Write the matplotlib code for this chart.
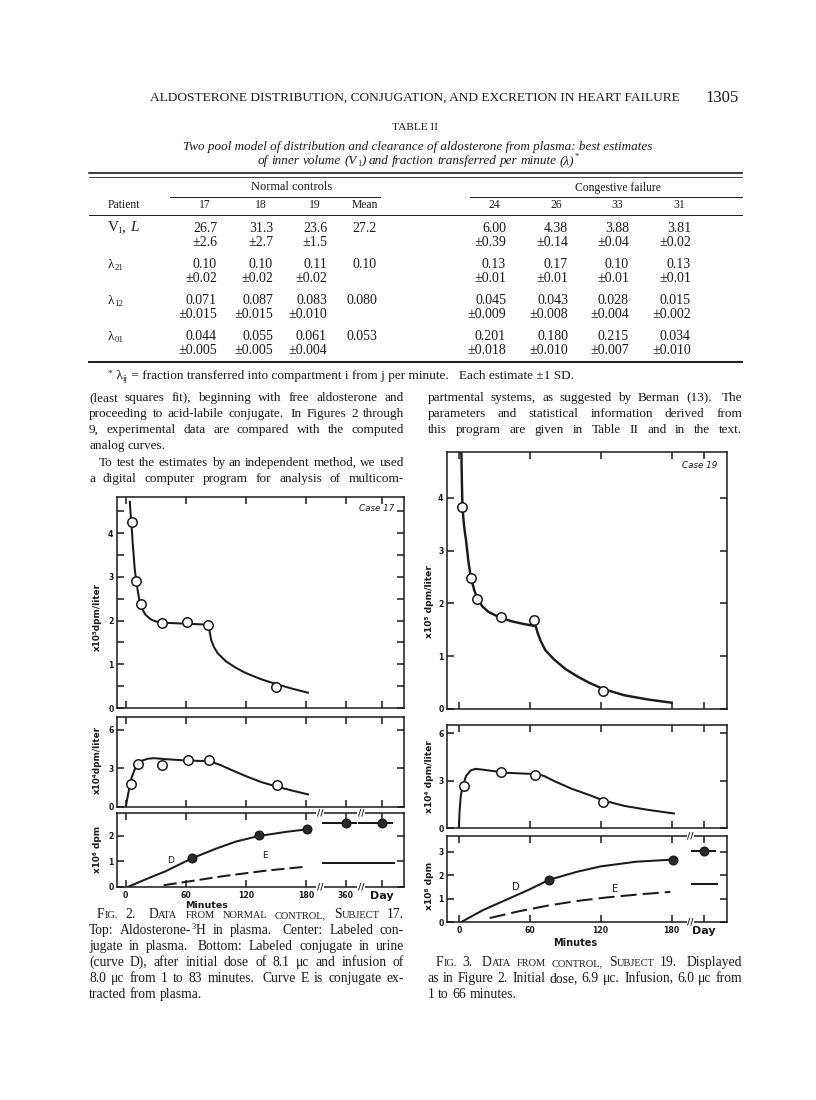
import re
import matplotlib
matplotlib.use('Agg')
import matplotlib.pyplot as plt

# ---------------- data ----------------
table_cols = ['17', '18', '19', 'Mean', '24', '26', '33', '31']
row_V1 = ['26.7', '31.3', '23.6', '27.2', '6.00', '4.38', '3.88', '3.81']
sd_V1 = ['±2.6', '±2.7', '±1.5', '', '±0.39', '±0.14', '±0.04', '±0.02']
row_l21 = ['0.10', '0.10', '0.11', '0.10', '0.13', '0.17', '0.10', '0.13']
sd_l21 = ['±0.02', '±0.02', '±0.02', '', '±0.01', '±0.01', '±0.01', '±0.01']
row_l12 = ['0.071', '0.087', '0.083', '0.080', '0.045', '0.043', '0.028', '0.015']
sd_l12 = ['±0.015', '±0.015', '±0.010', '', '±0.009', '±0.008', '±0.004', '±0.002']
row_l01 = ['0.044', '0.055', '0.061', '0.053', '0.201', '0.180', '0.215', '0.034']
sd_l01 = ['±0.005', '±0.005', '±0.004', '', '±0.018', '±0.010', '±0.007', '±0.010']

# Fig. 2 (subject 17)
f2_top_pts_x = [6, 10.5, 15, 36, 61, 82, 150]
f2_top_pts_y = [4.26, 2.91, 2.37, 1.94, 1.98, 1.91, 0.49]
f2_top_curve_x = [4.2, 5, 6, 7, 8, 9, 10.5, 12, 13.5, 15, 17, 20, 25, 30, 40, 60, 80, 83,
                  84, 85.5, 88, 92, 100, 110, 120, 135, 150, 165, 182]
f2_top_curve_y = [4.72, 4.45, 4.15, 3.8, 3.5, 3.2, 2.92, 2.7, 2.5, 2.37, 2.25, 2.13, 2.03, 1.98,
                  1.95, 1.93, 1.91, 1.9, 1.72, 1.55, 1.4, 1.25, 1.07, 0.92, 0.8, 0.66, 0.55, 0.45, 0.35]
f2_mid_pts_x = [5, 12.5, 36.5, 62, 83, 151.5]
f2_mid_pts_y = [1.76, 3.36, 3.3, 3.67, 3.62, 1.68]
f2_mid_curve_x = [0.5, 2, 4, 6, 9, 12, 16, 22, 28, 40, 60, 80, 88, 95, 105, 120, 135, 150, 165, 182]
f2_mid_curve_y = [0.15, 0.8, 1.6, 2.3, 2.9, 3.3, 3.6, 3.75, 3.8, 3.72, 3.62, 3.57, 3.45, 3.25,
                  2.9, 2.4, 1.95, 1.6, 1.3, 0.98]
f2_D_curve_x = [2, 20, 40, 66, 90, 110, 133, 160, 181]
f2_D_curve_y = [0, 0.3, 0.62, 1.12, 1.5, 1.78, 2.0, 2.16, 2.26]
f2_D_pts_x = [66, 133, 181]
f2_D_pts_y = [1.15, 2.04, 2.28]
f2_E_curve_x = [38, 60, 80, 100, 120, 140, 160, 181]
f2_E_curve_y = [0.07, 0.2, 0.32, 0.44, 0.54, 0.64, 0.72, 0.8]
f2_late_labels = ['360', 'Day']
f2_late_D = [2.52, 2.52]
f2_late_E = [0.94, 0.94]

# Fig. 3 (subject 19)
f3_top_pts_x = [2.9, 10, 15, 36, 63.6, 122]
f3_top_pts_y = [3.83, 2.48, 2.09, 1.74, 1.69, 0.35]
f3_top_curve_x = [2.0, 2.5, 3, 4, 5, 6, 8, 10, 13, 16, 20, 25, 35, 45, 55, 65, 66.5, 69, 73, 80,
                  90, 100, 110, 122, 140, 160, 180]
f3_top_curve_y = [4.95, 4.3, 3.83, 3.55, 3.35, 3.2, 2.8, 2.5, 2.25, 2.07, 1.94, 1.84, 1.73, 1.66,
                  1.61, 1.57, 1.45, 1.3, 1.12, 0.95, 0.76, 0.62, 0.5, 0.38, 0.26, 0.18, 0.12]
f3_mid_pts_x = [4.3, 36, 64.5, 122]
f3_mid_pts_y = [2.67, 3.56, 3.37, 1.68]
f3_mid_curve_x = [0, 0.5, 1.5, 3, 6, 10, 14, 20, 30, 40, 55, 66, 72, 80, 95, 110, 122, 140, 160, 182]
f3_mid_curve_y = [0, 1.0, 2.0, 2.6, 3.3, 3.65, 3.75, 3.7, 3.6, 3.5, 3.45, 3.42, 3.3, 3.0, 2.5,
                  2.1, 1.75, 1.4, 1.15, 0.92]
f3_D_curve_x = [2, 20, 40, 60, 76, 100, 120, 150, 181]
f3_D_curve_y = [0, 0.5, 0.95, 1.4, 1.8, 2.15, 2.38, 2.58, 2.67]
f3_D_pts_x = [76, 181]
f3_D_pts_y = [1.81, 2.66]
f3_E_curve_x = [26, 50, 75, 100, 125, 150, 179]
f3_E_curve_y = [0.17, 0.45, 0.7, 0.9, 1.05, 1.17, 1.29]
f3_late_D = [3.05]
f3_late_E = [1.63]

minute_ticks = [0, 60, 120, 180]
minute_labels = ['0', '60', '120', '180']

# ---------------- page setup ----------------
W, H = 816, 1100
fig = plt.figure(figsize=(W / 100, H / 100), dpi=100)
fig.patch.set_facecolor('white')
renderer = fig.canvas.get_renderer()
SERIF = ['Liberation Serif', 'DejaVu Serif']
SANS = ['DejaVu Sans']
INK = '#1a1a1a'

_cache = {}


def measure(s, size, style='normal'):
    key = (s, round(size, 3), style)
    if key not in _cache:
        t = fig.text(0, 0, s, fontsize=size, style=style, family=SERIF)
        _cache[key] = t.get_window_extent(renderer).width
        t.remove()
    return _cache[key]


def space_w(size, style='normal'):
    return measure('a a', size, style) - measure('aa', size, style)


def put(x, yb, s, size, ha='left', style='normal'):
    fig.text(x / W, 1 - yb / H, s, fontsize=size, ha=ha, va='baseline', style=style,
             family=SERIF, color=INK)


def word_runs(w, size, style):
    runs = []
    for p in re.split(r'(\{[\^_s][^}]*\})', w):
        if not p:
            continue
        em = size * 100 / 72
        if p.startswith('{^'):
            runs.append((p[2:-1], size * 0.62, 'normal', 0.38 * em))
        elif p.startswith('{_'):
            runs.append((p[2:-1], size * 0.62, 'normal', -0.18 * em))
        elif p.startswith('{s'):
            runs.append((p[3:-1], size * 0.76, style, 0))
        else:
            runs.append((p, size, style, 0))
    return runs


def runs_width(runs):
    return sum(measure(t, s, st) for t, s, st, dy in runs)


def draw_runs(x, yb, runs):
    for t, s, st, dy in runs:
        put(x, yb - dy, t, s, style=st)
        x += measure(t, s, st)
    return x


def split_line(s, size, style):
    toks = re.split(r'( +)', s.strip())
    words = [word_runs(t, size, style) for t in toks[0::2]]
    weights = [1.0 if len(g) == 1 else 1.6 for g in toks[1::2]]
    return words, weights


def natural_width(s, size, style='normal'):
    words, weights = split_line(s, size, style)
    return sum(runs_width(w) for w in words) + space_w(size, style) * sum(weights)


def auto_size(lines, width, base=10.0, style='normal'):
    return 0.985 * min(base * width / natural_width(s, base, style) for s in lines)


def text_line(x0, x1, yb, s, size=9, style='normal', justify=True, indent=0):
    words, weights = split_line(s, size, style)
    widths = [runs_width(w) for w in words]
    if justify and len(words) > 1:
        unit = (x1 - x0 - indent - sum(widths)) / sum(weights)
    else:
        unit = space_w(size, style)
    x = x0 + indent
    for i, w in enumerate(words):
        draw_runs(x, yb, w)
        x += widths[i]
        if i < len(weights):
            x += unit * weights[i]


def fitted(x0, x1, yb, s, base, style='normal'):
    if '{' not in s:
        size = base * (x1 - x0) / measure(s, base, style)
        put(x0, yb, s, size, style=style)
        return size
    size = base * (x1 - x0) / natural_width(s, base, style)
    words, weights = split_line(s, size, style)
    sp = space_w(size, style)
    x = x0
    for i, w in enumerate(words):
        x = draw_runs(x, yb, w)
        if i < len(weights):
            x += sp * weights[i]
    return size


def hline(x0, x1, y, lw=0.8):
    fig.add_artist(plt.Line2D([x0 / W, x1 / W], [1 - y / H, 1 - y / H], color=INK, lw=lw))


# ---------------- running head ----------------
fitted(150, 680, 101, 'ALDOSTERONE DISTRIBUTION, CONJUGATION, AND EXCRETION IN HEART FAILURE', 10)
put(739, 101.5, '1305', 12, ha='right')

# ---------------- table ----------------
fitted(392, 438, 130.5, 'TABLE II', 7.4)
fitted(183, 648, 150, 'Two pool model of distribution and clearance of aldosterone from plasma: best estimates',
       9.2, style='italic')
fitted(258, 578, 164, 'of inner volume (V{_1}) and fraction transferred per minute (λ){^*}', 9.2,
       style='italic')
hline(89, 742, 173, 1.2)
hline(89, 742, 176.5, 0.6)
fitted(251, 331, 190.5, 'Normal controls', 8.2)
fitted(575, 661, 190.5, 'Congestive failure', 8.2)
hline(170, 380, 196.5, 0.7)
hline(470, 742, 196.5, 0.7)
put(108, 208.5, 'Patient', 8.4)
col_right = [217, 273, 327, 377, 506, 568, 629, 691]
for r, c in zip(col_right, table_cols):
    put(r - 12, 208.5, c, 8.4, ha='center')
hline(89, 742, 214.5, 0.7)

rows = [('V', '1', ', ', 'L', row_V1, sd_V1, 227),
        ('λ', '21', '', '', row_l21, sd_l21, 264),
        ('λ', '12', '', '', row_l12, sd_l12, 300),
        ('λ', '01', '', '', row_l01, sd_l01, 336)]
for main, sub, sep, tail, vals, sds, yc in rows:
    big = 11 if main == 'V' else 9.4
    x = draw_runs(108, yc + 4, [(main, big, 'normal', 0)]) - (1.5 if main == 'V' else 0)
    x = draw_runs(x, yc + 4, [(sub, 6.4, 'normal', -2.2)])
    if tail:
        x = draw_runs(x, yc + 4, [(sep, big, 'normal', 0), (tail, big, 'italic', 0)])
    for r, v, s in zip(col_right, vals, sds):
        put(r, yc + 4.5, v, 10, ha='right')
        if s:
            put(r, yc + 18.5, s, 10, ha='right')
hline(89, 742, 362, 1.4)
fn_text = ' = fraction transferred into compartment i from j per minute.   Each estimate ±1 SD.'
fs = 8.6 * 462 / runs_width([('*', 6, 'normal', 0), (' λ', 8.6, 'normal', 0), ('ij', 5.8, 'normal', 0),
                              (fn_text, 8.6, 'normal', 0)])
draw_runs(108, 379, [('*', 6 * fs / 8.6, 'normal', 3), (' λ', fs, 'normal', 0),
                     ('ij', fs * 0.66, 'normal', -2), (fn_text, fs, 'normal', 0)])

# ---------------- body text ----------------
LX0, LX1, RX0, RX1 = 89, 404, 428, 742
left_lines = ['(least squares fit), beginning with free aldosterone and',
              'proceeding to acid-labile conjugate.  In Figures 2 through',
              '9, experimental data are compared with the computed',
              'analog curves.',
              'To test the estimates by an independent method, we used',
              'a digital computer program for analysis of multicom-']
right_lines = ['partmental systems, as suggested by Berman (13).  The',
               'parameters and statistical information derived from',
               'this program are given in Table II and in the text.']
BODY = auto_size([left_lines[i] for i in (0, 1, 2, 5)] + right_lines, LX1 - LX0)
BODY = min(BODY, auto_size([left_lines[4]], LX1 - LX0 - 10))
ly = [401, 417, 433, 449, 466, 482]
for i, (s, y) in enumerate(zip(left_lines, ly)):
    text_line(LX0, LX1, y, s, BODY, justify=(i != 3), indent=10 if i == 4 else 0)
for s, y in zip(right_lines, [401, 417, 433]):
    text_line(RX0, RX1, y, s, BODY)

# ---------------- figure helpers ----------------


def make_ax(l, r, t, b):
    return fig.add_axes([l / W, 1 - b / H, (r - l) / W, (b - t) / H])


def style_ax(ax, xlim, ylim, xt, yt, ylab):
    ax.set_xlim(*xlim)
    ax.set_ylim(*ylim)
    for sp in ax.spines.values():
        sp.set_linewidth(1.1)
        sp.set_color(INK)
    ax.tick_params(direction='in', length=5, width=1.1, top=True, right=True, colors=INK,
                   labelsize=5.6, pad=2.5)
    ax.set_xticks(xt)
    ax.set_xticklabels([])
    ax.set_yticks(yt)
    ax.set_yticklabels([ylab.get(v, '') for v in yt], fontweight='bold', family=SANS)
    ax.set_facecolor('none')


def xlabels(ax, pos, labs):
    for p, lab in zip(pos, labs):
        big = lab == 'Day'
        ax.annotate(lab, xy=(p, 0), xycoords=('data', 'axes fraction'), xytext=(0, -3),
                    textcoords='offset points', ha='center', va='top',
                    fontsize=8 if big else 5.6, fontweight='bold', family=SANS, color=INK)


def brk(ax, x):
    for yy in (0, 1):
        ax.text(x, yy, '//', transform=ax.get_xaxis_transform(), ha='center', va='center',
                fontsize=6.5, fontweight='bold', family=SANS, color=INK, zorder=6, clip_on=False,
                bbox=dict(fc='white', ec='none', pad=0.3))


def circles(ax, x, y, filled=False):
    if filled:
        ax.plot(x, y, 'o', ms=6.2, mfc='#2a2a2a', mec=INK, mew=1.0, zorder=4)
    else:
        ax.plot(x, y, 'o', ms=6.8, mfc='white', mec=INK, mew=1.1, zorder=4)


CLW = 1.45

# ---------------- Fig. 2 ----------------
F2L, F2R = 117, 404
f2_xlim = (-8.6, 277.8)
f2_late_pos = [219.5, 255.5]
f2_xt = minute_ticks + f2_late_pos

a = make_ax(F2L, F2R, 497, 708)
style_ax(a, f2_xlim, (0, 4.83), f2_xt, [0, 0.5, 1, 1.5, 2, 2.5, 3, 3.5, 4, 4.5],
         {0: '0', 1: '1', 2: '2', 3: '3', 4: '4'})
a.plot(f2_top_curve_x, f2_top_curve_y, color=INK, lw=CLW)
circles(a, f2_top_pts_x, f2_top_pts_y)
a.text(0.965, 0.965, 'Case 17', transform=a.transAxes, ha='right', va='top', fontsize=6.3,
       style='italic', family=SANS, color=INK)

b = make_ax(F2L, F2R, 717, 807)
style_ax(b, f2_xlim, (0, 7.0), f2_xt, [0, 3, 6], {0: '0', 3: '3', 6: '6'})
b.plot(f2_mid_curve_x, f2_mid_curve_y, color=INK, lw=CLW)
circles(b, f2_mid_pts_x, f2_mid_pts_y)

c = make_ax(F2L, F2R, 813, 887)
style_ax(c, f2_xlim, (0, 2.9), f2_xt, [0, 1, 2], {0: '0', 1: '1', 2: '2'})
c.plot(f2_D_curve_x, f2_D_curve_y, color=INK, lw=CLW)
c.plot(f2_E_curve_x, f2_E_curve_y, color=INK, lw=CLW, dashes=(6.5, 2.5))
circles(c, f2_D_pts_x, f2_D_pts_y, filled=True)
for p, yd, ye in zip(f2_late_pos, f2_late_D, f2_late_E):
    c.plot([p - 23, p + 10], [yd, yd], color=INK, lw=CLW)
    c.plot([p - 23, p + 12], [ye, ye], color=INK, lw=CLW)
circles(c, f2_late_pos, f2_late_D, filled=True)
c.text(45, 1.05, 'D', fontsize=6.5, family=SANS, color=INK, ha='center', va='center')
c.text(139, 1.22, 'E', fontsize=6.5, family=SANS, color=INK, ha='center', va='center')
brk(c, 194)
brk(c, 235)
xlabels(c, f2_xt, minute_labels + f2_late_labels)
fig.text(207 / W, 1 - 905 / H, 'Minutes', ha='center', va='center', fontsize=6.8,
         fontweight='bold', family=SANS, color=INK)
for yc, lab in [(617, 'x10⁵dpm/liter'), (760, 'x10⁴dpm/liter'), (849, 'x10⁶ dpm')]:
    fig.text(97 / W, 1 - yc / H, lab, rotation=90, ha='center', va='center', fontsize=6.4,
             fontweight='bold', family=SANS, color=INK)

# ---------------- Fig. 3 ----------------
F3L, F3R = 447, 727
f3_xlim = (-10.1, 226.9)
f3_day = [207.4]
f3_xt = minute_ticks + f3_day

a3 = make_ax(F3L, F3R, 452, 709)
style_ax(a3, f3_xlim, (0, 4.87), f3_xt, [0, 1, 2, 3, 4], {0: '0', 1: '1', 2: '2', 3: '3', 4: '4'})
a3.plot(f3_top_curve_x, f3_top_curve_y, color=INK, lw=CLW + 0.3)
circles(a3, f3_top_pts_x, f3_top_pts_y)
a3.text(0.965, 0.965, 'Case 19', transform=a3.transAxes, ha='right', va='top', fontsize=6.3,
        style='italic', family=SANS, color=INK)

b3 = make_ax(F3L, F3R, 725, 828)
style_ax(b3, f3_xlim, (0, 6.53), f3_xt, [0, 3, 6], {0: '0', 3: '3', 6: '6'})
b3.plot(f3_mid_curve_x, f3_mid_curve_y, color=INK, lw=CLW)
circles(b3, f3_mid_pts_x, f3_mid_pts_y)

c3 = make_ax(F3L, F3R, 836, 922)
style_ax(c3, f3_xlim, (0, 3.68), f3_xt, [0, 1, 2, 3], {0: '0', 1: '1', 2: '2', 3: '3'})
c3.plot(f3_D_curve_x, f3_D_curve_y, color=INK, lw=CLW)
c3.plot(f3_E_curve_x, f3_E_curve_y, color=INK, lw=CLW, dashes=(8, 3))
circles(c3, f3_D_pts_x, f3_D_pts_y, filled=True)
for p, yd, ye in zip(f3_day, f3_late_D, f3_late_E):
    c3.plot([p - 10, p + 9], [yd, yd], color=INK, lw=CLW)
    c3.plot([p - 10, p + 11], [ye, ye], color=INK, lw=CLW)
circles(c3, f3_day, f3_late_D, filled=True)
c3.text(48, 1.5, 'D', fontsize=7, family=SANS, color=INK, ha='center', va='center')
c3.text(132, 1.42, 'E', fontsize=7, family=SANS, color=INK, ha='center', va='center')
brk(c3, 195.8)
xlabels(c3, f3_xt, minute_labels + ['Day'])
fig.text(575 / W, 1 - 943 / H, 'Minutes', ha='center', va='center', fontsize=7,
         fontweight='bold', family=SANS, color=INK)
for yc, lab in [(602, 'x10⁵ dpm/liter'), (777, 'x10⁴ dpm/liter'), (886, 'x10⁶ dpm')]:
    fig.text(430 / W, 1 - yc / H, lab, rotation=90, ha='center', va='center', fontsize=6.6,
             fontweight='bold', family=SANS, color=INK)

# ---------------- captions ----------------
cap2 = ['F{s:IG.} 2.  D{s:ATA} {s:FROM} {s:NORMAL} {s:CONTROL,} S{s:UBJECT} 17.',
        'Top: Aldosterone-{^3}H in plasma.  Center: Labeled con-',
        'jugate in plasma.  Bottom: Labeled conjugate in urine',
        '(curve D), after initial dose of 8.1 μc and infusion of',
        '8.0 μc from 1 to 83 minutes.  Curve E is conjugate ex-',
        'tracted from plasma.']
cap3 = ['F{s:IG.} 3.  D{s:ATA} {s:FROM} {s:CONTROL,} S{s:UBJECT} 19.  Displayed',
        'as in Figure 2.  Initial dose, 6.9 μc.  Infusion, 6.0 μc from',
        '1 to 66 minutes.']
CAP = auto_size(cap2[1:5] + cap3[1:2], LX1 - LX0)
for i, s in enumerate(cap2):
    text_line(LX0, LX1, 918 + 16 * i, s, CAP, justify=(i != 5), indent=8 if i == 0 else 0)
for i, s in enumerate(cap3):
    text_line(RX0, RX1, 966 + 16 * i, s, CAP, justify=(i != 2), indent=8 if i == 0 else 0)

fig.savefig('out.png', dpi=100, facecolor='white')
